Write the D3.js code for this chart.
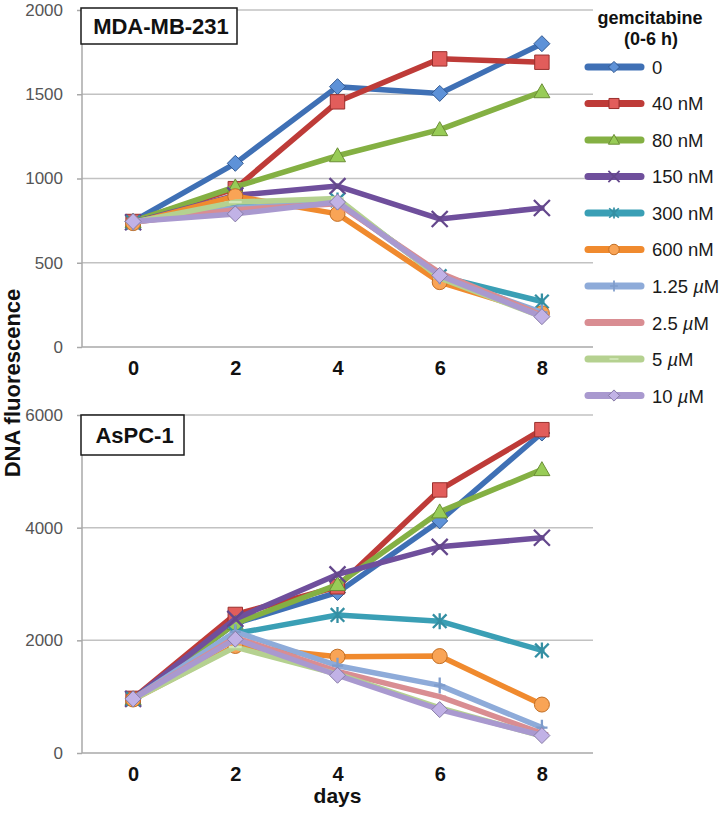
<!DOCTYPE html>
<html><head><meta charset="utf-8">
<script src="https://cdn.jsdelivr.net/npm/d3@7"></script>
<style>
body{margin:0;background:#fff}
svg{display:block;font-family:"Liberation Sans",Arial,Helvetica,sans-serif}
</style>
</head><body>
<svg id="chart" width="723" height="813"></svg>
<script>
// ---------------- data ----------------
const days = ["0", "2", "4", "6", "8"];
const seriesNames = ["0", "40 nM", "80 nM", "150 nM", "300 nM", "600 nM", "1.25 µM", "2.5 µM", "5 µM", "10 µM"];
const seriesColors = ["#3F70B5", "#BE3B38", "#84B043", "#6F4F9C", "#3A9FB5", "#F08A2E", "#8EABD9", "#D98D92", "#B5D190", "#A999CF"];
const markerFills = ["#5E92D8", "#E25D5B", "#98CC57", "#6F4F9C", "#3A9FB5", "#F9A456", "#7E9CCB", "#D98D92", "#D3E8BA", "#C1B2E6"];
const markerTypes = ["diamond", "square", "triangle", "x", "star", "circle", "plus", "dash", "dash", "diamond"];

const mdaValues = [
  [745, 1090, 1545, 1505, 1800],
  [745, 940, 1455, 1710, 1690],
  [745, 950, 1135, 1290, 1515],
  [740, 900, 955, 760, 825],
  [740, 855, 870, 420, 270],
  [735, 895, 790, 385, 200],
  [740, 825, 860, 420, 205],
  [740, 815, 850, 440, 190],
  [740, 860, 882, 410, 180],
  [745, 790, 860, 425, 180]
];
const aspcValues = [
  [960, 2300, 2850, 4120, 5680],
  [970, 2460, 2950, 4670, 5740],
  [960, 2300, 2990, 4280, 5030],
  [960, 2380, 3170, 3660, 3820],
  [960, 2120, 2450, 2340, 1820],
  [950, 1900, 1710, 1720, 860],
  [960, 2150, 1550, 1200, 450],
  [960, 2050, 1450, 1000, 350],
  [950, 1880, 1400, 800, 300],
  [960, 2020, 1380, 770, 310]
];
const mdaTicks = [0, 500, 1000, 1500, 2000];
const aspcTicks = [0, 2000, 4000, 6000];
const panelTitles = ["MDA-MB-231", "AsPC-1"];

// ---------------- layout ----------------
const svg = d3.select("#chart");
const plotLeft = 82, plotRight = 593;
const x = d3.scalePoint().domain(days).range([plotLeft, plotRight]).padding(0.5);

function markerPath(type, s) {
  const r = 8 * s;
  switch (type) {
    case "diamond": return `M0,${-r}L${r},0L0,${r}L${-r},0Z`;
    case "square": return `M${-r*0.9},${-r*0.9}H${r*0.9}V${r*0.9}H${-r*0.9}Z`;
    case "triangle": return `M0,${-r}L${r},${r*0.75}L${-r},${r*0.75}Z`;
    case "circle": return d3.symbol(d3.symbolCircle, Math.PI * (7.5*s) * (7.5*s))();
    case "x": return `M${-r},${-r}L${r},${r}M${-r},${r}L${r},${-r}`;
    case "star": return `M${-r*0.85},${-r*0.85}L${r*0.85},${r*0.85}M${-r*0.85},${r*0.85}L${r*0.85},${-r*0.85}M0,${-r}V${r}`;
    case "plus": return `M0,${-r}V${r}M${-r*0.7},0H${r*0.7}`;
    case "dash": return `M${-r*0.8},0H${r*0.8}`;
  }
}
const strokeOnly = t => ["x", "star", "plus", "dash"].includes(t);

function drawMarker(g, i, cx, cy, s) {
  const t = markerTypes[i];
  const p = g.append("path")
    .attr("d", markerPath(t, s))
    .attr("transform", `translate(${cx},${cy})`);
  if (t === "dash" || t === "plus") {
    p.attr("fill", "none").attr("stroke", markerFills[i]).attr("stroke-width", 2 * s + 0.3);
  } else if (strokeOnly(t)) {
    p.attr("fill", "none").attr("stroke", d3.color(seriesColors[i]).darker(0.3)).attr("stroke-width", 2 * s + 0.3);
  } else {
    p.attr("fill", markerFills[i]).attr("stroke", d3.color(seriesColors[i]).darker(0.6)).attr("stroke-width", 1);
  }
}

function drawPanel(values, ticks, yTop, yBottom, title, box) {
  const y = d3.scaleLinear().domain([0, d3.max(ticks)]).range([yBottom, yTop]);
  const g = svg.append("g");

  // gridlines
  g.selectAll("line.grid").data(ticks).join("line")
    .attr("class", "grid")
    .attr("x1", plotLeft).attr("x2", plotRight)
    .attr("y1", d => y(d)).attr("y2", d => y(d))
    .attr("stroke", d => d === 0 ? "#A8A8A8" : "#C2C2C2").attr("stroke-width", 1.5);

  // y axis
  const ya = g.append("g").attr("transform", `translate(${plotLeft},0)`)
    .call(d3.axisLeft(y).tickValues(ticks).tickSize(5).tickPadding(14).tickFormat(d3.format("d")));
  ya.select(".domain").attr("stroke", "#A8A8A8").attr("stroke-width", 1.5).attr("d", `M0,${y(d3.max(ticks))}V${y(0)}`);
  ya.selectAll(".tick line").attr("stroke", "#A8A8A8").attr("stroke-width", 1.5);
  ya.selectAll(".tick text").attr("fill", "#555").style("font-size", "17px");

  // x axis
  const xa = g.append("g").attr("transform", `translate(0,${y(0)})`)
    .call(d3.axisBottom(x).tickSize(0).tickPadding(14));
  xa.select(".domain").remove();
  xa.selectAll(".tick text").attr("fill", "#111").style("font-size", "20px").style("font-weight", "bold");

  // series lines
  const line = d3.line().x((d, i) => x(days[i])).y(d => y(d));
  values.forEach((vals, si) => {
    const sg = g.append("g");
    sg.append("path").datum(vals).attr("d", line)
      .attr("fill", "none").attr("stroke", seriesColors[si])
      .attr("stroke-width", 5.5).attr("stroke-linejoin", "round").attr("stroke-linecap", "round");
    vals.forEach((v, i) => drawMarker(sg, si, x(days[i]), y(v), 1));
  });

  // title box
  g.append("rect").attr("x", box[0]).attr("y", box[1]).attr("width", box[2]).attr("height", box[3])
    .attr("fill", "#fff").attr("stroke", "#1a1a1a").attr("stroke-width", 1.5);
  g.append("text").attr("x", box[0] + box[2] / 2 + 2).attr("y", box[1] + box[3] / 2)
    .attr("text-anchor", "middle").attr("dominant-baseline", "central")
    .style("font-size", "22px").style("font-weight", "bold").attr("fill", "#111").text(title);
}

drawPanel(mdaValues, mdaTicks, 10, 347, panelTitles[0], [81, 8, 156, 36]);
drawPanel(aspcValues, aspcTicks, 415, 753, panelTitles[1], [81, 415, 103, 40]);

// axis titles
svg.append("text").attr("transform", "translate(12,383) rotate(-90)")
  .attr("text-anchor", "middle").attr("dominant-baseline", "central")
  .style("font-size", "22px").style("font-weight", "bold").attr("fill", "#111").text("DNA fluorescence");
svg.append("text").attr("x", x("4")).attr("y", 795)
  .attr("text-anchor", "middle").attr("dominant-baseline", "central")
  .style("font-size", "21px").style("font-weight", "bold").attr("fill", "#111").text("days");

// legend
const lg = svg.append("g");
lg.append("text").attr("x", 650).attr("y", 18).attr("text-anchor", "middle").attr("dominant-baseline", "central")
  .style("font-size", "18px").style("font-weight", "bold").attr("fill", "#111").text("gemcitabine");
lg.append("text").attr("x", 651).attr("y", 39).attr("text-anchor", "middle").attr("dominant-baseline", "central")
  .style("font-size", "18px").style("font-weight", "bold").attr("fill", "#111").text("(0-6 h)");
seriesNames.forEach((name, i) => {
  const ly = 67 + i * 36.5;
  lg.append("line").attr("x1", 588).attr("x2", 641).attr("y1", ly).attr("y2", ly)
    .attr("stroke", seriesColors[i]).attr("stroke-width", 7).attr("stroke-linecap", "round");
  drawMarker(lg, i, 614, ly, 0.7);
  const t = lg.append("text").attr("x", 652).attr("y", ly).attr("dominant-baseline", "central")
    .style("font-size", "18.5px").attr("fill", "#1a1a1a");
  if (name.includes("µ")) {
    const parts = name.split("µ");
    t.append("tspan").text(parts[0]);
    t.append("tspan").style("font-style", "italic").text("µ");
    t.append("tspan").text(parts[1]);
  } else {
    t.text(name);
  }
});
</script>
</body></html>
